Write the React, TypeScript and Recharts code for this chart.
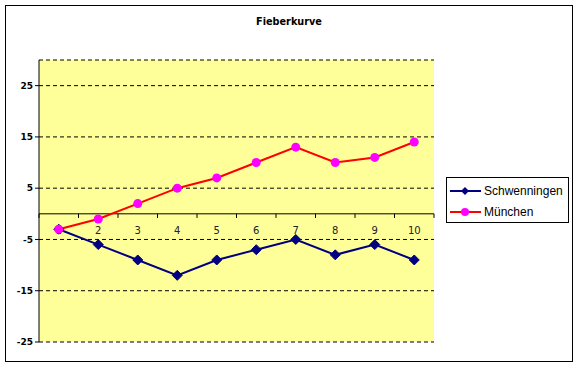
import React from 'react';
import {
    LineChart,
    Line,
    XAxis,
    YAxis,
    CartesianGrid,
    ReferenceLine,
    ReferenceDot,
} from 'recharts';

// Tage (Kategorien)
const DAYS = [1, 2, 3, 4, 5, 6, 7, 8, 9, 10];
const SCHWENNINGEN = [-3, -6, -9, -12, -9, -7, -5, -8, -6, -9];
const MUENCHEN = [-3, -1, 2, 5, 7, 10, 13, 10, 11, 14];
const Y_TICKS = [-25, -15, -5, 5, 15, 25];
// Teilstriche zwischen den Kategorien
const X_TICK_MARKS = [0.5, 1.5, 2.5, 3.5, 4.5, 5.5, 6.5, 7.5, 8.5, 9.5, 10.5];

const NAVY = '#000080';
const RED = '#FF0000';
const MAGENTA = '#FF00FF';
const FONT = '"DejaVu Sans", Tahoma, sans-serif';

const chartData = DAYS.map((day, i) => ({
    day,
    Schwenningen: SCHWENNINGEN[i],
    'München': MUENCHEN[i],
}));

const Diamond = (props: any) => {
    const { cx, cy } = props;
    if (cx == null || cy == null) return null;
    const s = 5;
    return (
        <polygon
            key={`d-${cx}`}
            points={`${cx},${cy - s} ${cx + s},${cy} ${cx},${cy + s} ${cx - s},${cy}`}
            fill={NAVY}
            stroke={NAVY}
        />
    );
};

const LegendBox = () => (
    <div
        style={{
            position: 'absolute',
            left: 446,
            top: 177,
            border: '1px solid #000',
            background: '#fff',
            width: 123,
            height: 46,
            fontFamily: '"Liberation Sans", Arial, sans-serif',
            fontSize: 12,
            color: '#000',
            boxSizing: 'border-box',
            paddingTop: 2,
        }}
    >
        {[
            { name: 'Schwenningen', color: NAVY, marker: 'diamond' },
            { name: 'München', color: RED, marker: 'circle' },
        ].map((item) => (
            <div key={item.name} style={{ display: 'flex', alignItems: 'center', height: 21 }}>
                <svg width={34} height={12} style={{ marginLeft: 3 }}>
                    <line x1={0} y1={6} x2={31} y2={6} stroke={item.color} strokeWidth={2} />
                    {item.marker === 'diamond' ? (
                        <polygon points="15,2 19,6 15,10 11,6" fill={NAVY} />
                    ) : (
                        <circle cx={15} cy={6} r={4} fill={MAGENTA} />
                    )}
                </svg>
                <span>{item.name}</span>
            </div>
        ))}
    </div>
);

export default function App() {
    return (
        <div style={{ position: 'absolute', left: 0, top: 0, width: 578, height: 366, background: '#fff' }}>
            <div
                style={{
                    position: 'absolute',
                    left: 5,
                    top: 5,
                    width: 568,
                    height: 357,
                    border: '1px solid #000',
                    boxSizing: 'border-box',
                }}
            />
            <div
                style={{
                    position: 'absolute',
                    left: 0,
                    top: 16,
                    width: 578,
                    textAlign: 'center',
                    fontFamily: FONT,
                    fontWeight: 'bold',
                    fontSize: 9.7,
                }}
            >
                Fieberkurve
            </div>
            <div style={{ position: 'absolute', left: 0, top: 0 }}>
                <LineChart
                    width={578}
                    height={366}
                    data={chartData}
                    margin={{ top: 60, right: 144, bottom: 24, left: 9 }}
                >
                    <CartesianGrid
                        vertical={false}
                        fill="#FFFF99"
                        stroke="#000"
                        strokeDasharray="4 3"
                    />
                    <XAxis dataKey="day" type="number" domain={[0.5, 10.5]} hide />
                    <YAxis
                        width={30}
                        domain={[-25, 30]}
                        ticks={Y_TICKS}
                        interval={0}
                        axisLine={{ stroke: '#000' }}
                        tickLine={{ stroke: '#000' }}
                        tickSize={4}
                        tick={{ fill: '#000', fontSize: 9, fontWeight: 'bold', fontFamily: FONT }}
                        allowDataOverflow
                    />
                    <ReferenceLine y={0} stroke="#000" strokeWidth={1} />
                    {X_TICK_MARKS.map((x) => (
                        <ReferenceLine
                            key={`tm-${x}`}
                            segment={[{ x, y: 0 }, { x, y: -0.8 }]}
                            stroke="#000"
                        />
                    ))}
                    {DAYS.map((d) => (
                        <ReferenceDot
                            key={`lbl-${d}`}
                            x={d}
                            y={0}
                            r={0}
                            shape={(p: any) => (
                                <text
                                    x={p.cx}
                                    y={p.cy + 20}
                                    textAnchor="middle"
                                    fontSize={10}
                                    fontFamily={FONT}
                                    fill="#222"
                                >
                                    {d}
                                </text>
                            )}
                        />
                    ))}
                    <Line
                        dataKey="Schwenningen"
                        stroke={NAVY}
                        strokeWidth={2}
                        dot={<Diamond />}
                        activeDot={false}
                        isAnimationActive={false}
                    />
                    <Line
                        dataKey="München"
                        stroke={RED}
                        strokeWidth={2}
                        dot={{ r: 4.5, fill: MAGENTA, stroke: MAGENTA, strokeWidth: 0 }}
                        activeDot={false}
                        isAnimationActive={false}
                    />
                </LineChart>
            </div>
            <LegendBox />
        </div>
    );
}
